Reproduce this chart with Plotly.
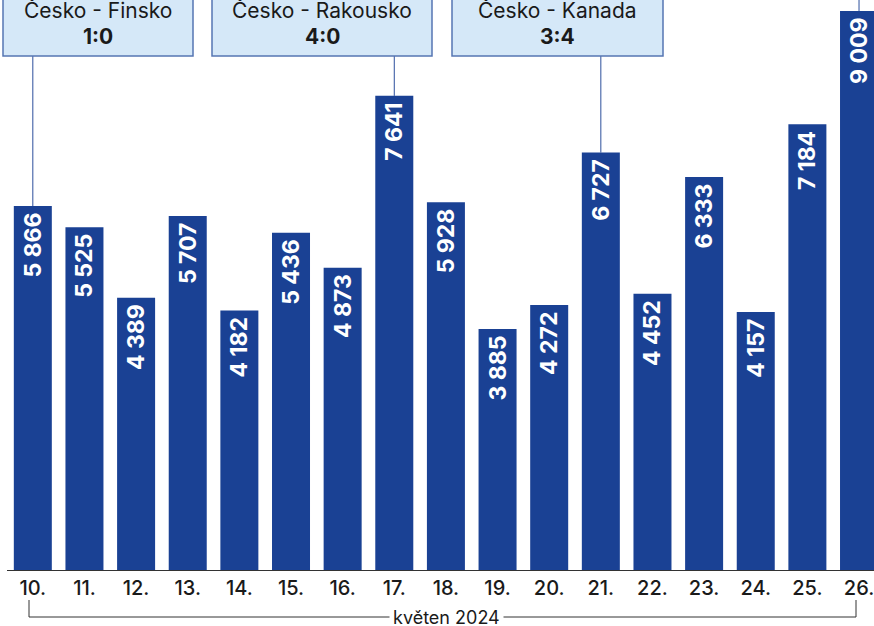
import plotly.graph_objects as go

days = ["10.", "11.", "12.", "13.", "14.", "15.", "16.", "17.", "18.",
        "19.", "20.", "21.", "22.", "23.", "24.", "25.", "26."]
visitors = [5866, 5525, 4389, 5707, 4182, 5436, 4873, 7641, 5928,
            3885, 4272, 6727, 4452, 6333, 4157, 7184, 9009]
month_label = "květen 2024"

match_titles = ["Česko - Finsko", "Česko - Rakousko", "Česko - Kanada"]
match_scores = ["1:0", "4:0", "3:4"]
match_days = ["10.", "17.", "21."]
extra_marker_day = "26."

BAR = "#1a4194"
FONT = "Inter, 'Open Sans', sans-serif"

W, H = 874, 626
ML, MR, MT, MB = 7, 0, 0, 56
PW, PH = W - ML - MR, H - MT - MB
YMAX = 9186


def xp(px):
    return (px - ML) / PW


def yp(py):
    return (H - MB - py) / PH


labels = [f"{v:,}".replace(",", " ") + "\u2009" for v in visitors]

fig = go.Figure(go.Bar(
    x=days, y=visitors, text=labels,
    textposition="inside", insidetextanchor="end", textangle=-90,
    textfont=dict(family=FONT, size=23, color="white", weight=700),
    marker=dict(color=BAR, line=dict(width=0)),
    constraintext="none", cliponaxis=False, hoverinfo="skip",
))

shapes = []
annotations = []

# match boxes (pixel geometry)
boxes = [(3, 193), (212, 432), (452, 663)]
for (x0, x1), title, score, day in zip(boxes, match_titles, match_scores, match_days):
    idx = days.index(day)
    shapes.append(dict(type="line", xref="x", yref="y", x0=idx, x1=idx,
                       y0=visitors[idx], y1=YMAX * yp(56),
                       line=dict(color="#2c4f9c", width=1), layer="below"))
    shapes.append(dict(type="rect", xref="paper", yref="paper",
                       x0=xp(x0), x1=xp(x1), y0=yp(56), y1=yp(-20),
                       fillcolor="#d5e8f8", line=dict(color="#5575b3", width=1.5)))
    cx = xp((x0 + x1) / 2)
    annotations.append(dict(xref="paper", yref="paper", x=cx, y=yp(11),
                            text=title, showarrow=False, xanchor="center", yanchor="middle",
                            font=dict(family=FONT, size=21, color="#1a1a1a")))
    annotations.append(dict(xref="paper", yref="paper", x=cx, y=yp(37),
                            text=f"<b>{score}</b>", showarrow=False, xanchor="center",
                            yanchor="middle",
                            font=dict(family=FONT, size=21, color="#1a1a1a")))

idx = days.index(extra_marker_day)
shapes.append(dict(type="line", xref="x", yref="y", x0=idx, x1=idx,
                   y0=visitors[idx], y1=YMAX * yp(-10),
                   line=dict(color="#2c4f9c", width=1), layer="below"))

# bottom bracket
shapes.append(dict(type="path", xref="paper", yref="paper",
                   path=f"M {xp(29)} {yp(600)} L {xp(29)} {yp(617)} L {xp(856)} {yp(617)} L {xp(856)} {yp(600)}",
                   line=dict(color="#333333", width=1)))
annotations.append(dict(xref="paper", yref="paper", x=xp(446), y=yp(617),
                        text=month_label, showarrow=False, xanchor="center", yanchor="middle",
                        bgcolor="white", borderpad=3,
                        font=dict(family=FONT, size=18, color="#1a1a1a")))

fig.update_layout(
    width=W, height=H,
    margin=dict(l=ML, r=MR, t=MT, b=MB, pad=0),
    paper_bgcolor="white", plot_bgcolor="white",
    bargap=0.264, showlegend=False,
    shapes=shapes, annotations=annotations,
    xaxis=dict(type="category", range=[-0.5, 16.29], showgrid=False,
               showline=True, linecolor="#333333", linewidth=1,
               ticks="", tickfont=dict(family=FONT, size=20, color="#1a1a1a", weight=500),
               fixedrange=True),
    yaxis=dict(range=[0, YMAX], visible=False, fixedrange=True),
)

fig.write_html("out.html", config={"displayModeBar": False},
               post_script="document.body.style.margin='0';document.body.style.overflow='hidden';")
